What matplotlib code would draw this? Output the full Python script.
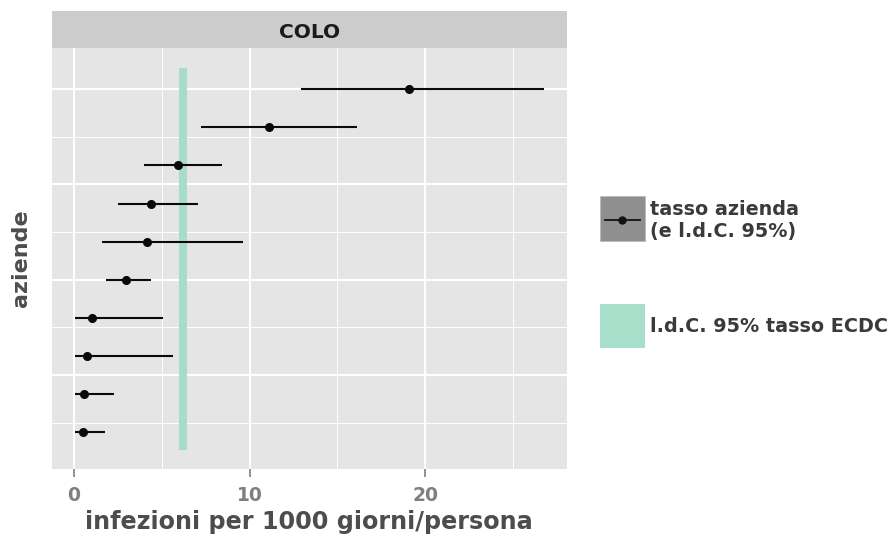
import matplotlib
matplotlib.use("Agg")
from matplotlib import pyplot as plt
from matplotlib.patches import Rectangle
from matplotlib.lines import Line2D

# tasso per azienda (dall'alto in basso) con intervallo di confidenza 95%
tasso = [19.06, 11.13, 5.95, 4.40, 4.16, 2.94, 1.02, 0.72, 0.59, 0.53]
idc_low = [12.94, 7.21, 3.97, 2.53, 1.61, 1.85, 0.04, 0.04, 0.04, 0.06]
idc_high = [26.74, 16.14, 8.43, 7.08, 9.65, 4.40, 5.08, 5.62, 2.27, 1.77]

# intervallo di confidenza 95% del tasso ECDC
ecdc_low = 6.0
ecdc_high = 6.45

pannello = "COLO"
x_ticks = [0, 10, 20]
x_minor = [5, 15, 25]
y_major = [2.5, 5, 7.5, 10]
y_minor = [1.25, 3.75, 6.25, 8.75]

W, H = 893, 544
FONT = "DejaVu Sans"


def fx(px):
    return px / W


def fy(py):
    return 1 - py / H


fig = plt.figure(figsize=(W / 100, H / 100), dpi=100)
fig.patch.set_facecolor("white")

left, right, top, bottom = 51.7, 566.7, 48.3, 469
ax = fig.add_axes([fx(left), fy(bottom), fx(right - left), (bottom - top) / H])
ax.set_facecolor("#E5E5E5")

n = len(tasso)
ypos = list(range(n, 0, -1))

# banda ECDC
ax.fill_betweenx([0.53, 10.55], ecdc_low, ecdc_high, color="#A7DCC8", lw=0, zorder=2)

# barre d'errore e punti
ax.hlines(ypos, idc_low, idc_high, color="#0A0A0A", lw=1.5, zorder=3)
ax.plot(tasso, ypos, "o", color="#0A0A0A", ms=5.5, zorder=4)

ax.set_xlim(-1.27, 28.06)
ax.set_ylim(0.04, 11.07)

ax.set_xticks(x_ticks)
ax.set_xticks(x_minor, minor=True)
ax.set_yticks(y_major)
ax.set_yticks(y_minor, minor=True)
ax.grid(which="major", color="white", lw=1.5, zorder=1)
ax.grid(which="minor", color="white", lw=0.7, zorder=1)
ax.set_axisbelow(True)
for s in ax.spines.values():
    s.set_visible(False)

ax.tick_params(axis="x", which="major", length=6, width=1.2, color="#7F7F7F",
               labelsize=13.5, labelcolor="#7F7F7F", pad=6)
ax.tick_params(axis="x", which="minor", length=0)
ax.tick_params(axis="y", which="both", length=0, labelleft=False)
for lab in ax.get_xticklabels():
    lab.set_fontweight("bold")
    lab.set_family(FONT)

ax.set_xlabel("infezioni per 1000 giorni/persona", fontsize=17.2, fontweight="bold",
              color="#4D4D4D", family=FONT, labelpad=4)
ax.set_ylabel("aziende", fontsize=16, fontweight="bold", color="#4D4D4D",
              family=FONT, labelpad=15)

# striscia del pannello
sax = fig.add_axes([fx(left), fy(top), fx(right - left), (top - 11) / H])
sax.set_facecolor("#CCCCCC")
sax.set_xticks([])
sax.set_yticks([])
for s in sax.spines.values():
    s.set_visible(False)
sax.text(0.5, 0.42, pannello, ha="center", va="center", fontsize=14.5,
         fontweight="bold", color="#1A1A1A", family=FONT, transform=sax.transAxes)

# legenda
kw, kh = 45 / W, 45 / H
fig.patches.append(Rectangle((fx(600), fy(241)), kw, kh, transform=fig.transFigure,
                             facecolor="#8F8F8F", edgecolor="#BBBBBB", lw=0.6))
fig.lines.append(Line2D([fx(605), fx(640)], [fy(220), fy(220)], transform=fig.transFigure,
                        color="#111111", lw=1.3))
fig.lines.append(Line2D([fx(622)], [fy(220)], transform=fig.transFigure, marker="o",
                        ms=5, color="#111111"))
fig.text(fx(650), fy(220.5), "tasso azienda\n(e l.d.C. 95%)", ha="left", va="center",
         fontsize=13.8, fontweight="bold", color="#3A3A3A", family=FONT, linespacing=1.2)

fig.patches.append(Rectangle((fx(600), fy(348)), kw, 44 / H, transform=fig.transFigure,
                             facecolor="#A8DFCB", edgecolor="none"))
fig.text(fx(650), fy(327), "l.d.C. 95% tasso ECDC", ha="left", va="center",
         fontsize=13.8, fontweight="bold", color="#3A3A3A", family=FONT)

fig.savefig("out.png", dpi=100)
